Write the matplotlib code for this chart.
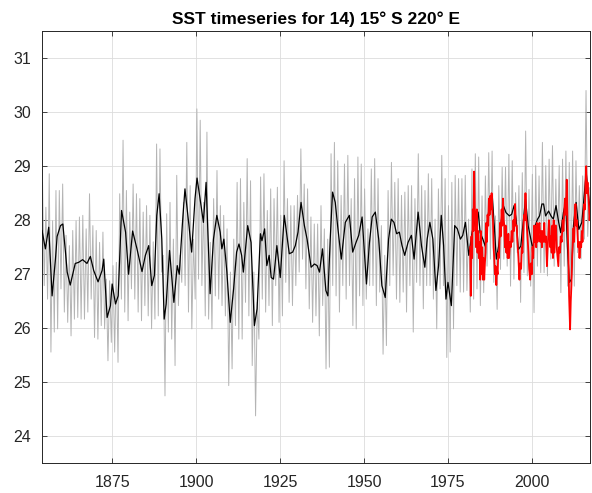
import numpy as np
import matplotlib
matplotlib.use("Agg")
import matplotlib.pyplot as plt

plt.rcParams['font.family'] = ['Liberation Sans', 'DejaVu Sans']

# monthly record, summarised as the seasonal high / low of each year (1854..2017)
first_year = 1854
grey_hi = [28.70, 28.24, 28.86, 27.99, 28.55, 28.55, 28.67, 27.72, 27.53, 27.81,
           27.99, 28.06, 28.09, 27.84, 28.49, 27.90, 27.81, 27.59, 27.78, 26.91,
           26.88, 27.16, 27.22, 28.49, 29.48, 28.55, 28.15, 28.67, 28.49, 28.40,
           28.15, 28.27, 28.09,
           27.60,
           29.41, 29.32, 27.35, 28.12, 28.33, 27.65, 28.83, 27.35, 28.33, 29.44,
           28.64, 27.65, 30.06, 29.85, 28.33, 29.63, 27.59, 28.40, 28.92, 28.27,
           28.09, 27.84, 27.04, 27.65, 28.70, 28.77, 28.33, 29.14, 28.73, 27.04,
           26.48, 28.80,
           28.86, 28.18, 28.58, 28.40, 28.61, 28.09, 29.10, 28.40, 28.27, 28.27,
           28.46, 29.32, 28.67, 28.58, 28.06, 27.93, 27.93, 28.27, 27.84, 27.65,
           29.23, 29.44, 29.10, 28.46, 29.04, 29.20, 28.40, 28.77, 29.17, 29.04,
           28.58, 27.84, 28.95,
           29.14, 28.77, 27.90, 27.35, 28.55, 29.07, 28.70, 28.77, 28.46, 28.52,
           28.64, 28.64, 28.40, 29.23, 28.64, 28.55, 28.86, 28.77, 28.02, 28.58,
           29.20, 28.77, 28.27, 28.70, 28.83, 28.77, 28.77, 28.83, 28.02, 28.95,
           29.23, 29.17,
           28.45, 28.82, 29.25, 29.28, 28.08, 28.64, 28.98, 28.98, 29.22, 29.10,
           28.51, 28.64, 28.88, 29.65, 28.57, 28.85, 29.01, 28.82, 29.44, 29.01,
           29.13, 29.38, 28.76, 29.01, 29.13, 29.28, 29.07, 29.28, 29.10, 28.64,
           28.82, 30.40,
           28.60]
grey_lo = [26.79, 26.54, 25.56, 25.93, 25.99, 26.73, 26.30, 26.11, 25.86, 26.17,
           26.20, 26.17, 26.17, 26.30, 26.54, 25.83, 25.80, 26.05, 25.99, 25.40,
           25.74, 25.56, 25.37, 26.54, 26.30, 26.14, 26.73, 26.54, 26.30, 26.14,
           26.42, 26.23, 25.99,
           26.17, 26.23, 27.04, 24.75, 25.93, 25.80, 25.31, 26.42, 26.85, 26.79,
           26.30, 25.99, 26.54, 26.91, 26.79, 26.23, 26.17, 25.99, 26.60, 26.54,
           26.42, 26.23, 24.94, 25.25, 26.05, 25.80, 25.80, 26.48, 26.23, 25.31,
           24.38, 25.80, 26.54,
           26.30, 26.42, 26.05, 26.79, 26.11, 26.23, 26.85, 26.48, 26.42, 26.79,
           27.04, 27.28, 26.73, 26.36, 26.11, 26.23, 25.86, 26.42, 25.25, 25.28,
           26.79, 26.60, 26.30, 26.79, 26.54, 26.79, 26.05, 25.99, 26.60, 26.42,
           26.54, 26.79,
           26.79,
           26.42, 26.67, 25.52, 25.68, 26.79, 26.98, 26.54, 26.48, 26.67, 26.30,
           26.79, 25.93, 26.85, 26.79, 26.36, 26.79, 26.79, 26.54, 25.99, 26.73,
           26.79, 25.46, 25.56, 25.99, 26.79, 26.67, 26.67, 26.70, 26.30, 26.54,
           26.73, 26.42,
           26.66, 27.15, 27.28, 26.85, 26.35, 27.09, 27.28, 27.15, 26.78, 26.91,
           27.40, 26.48, 27.03, 26.97, 26.78, 26.29, 27.15, 27.03, 27.03, 26.97,
           27.28, 27.15, 27.40, 26.66, 27.15, 26.78, 26.66, 26.78, 27.40, 27.28,
           27.65,
           27.70]

# smoothed series
black_year = [1854.0, 1855.0, 1856.0, 1857.0, 1858.0, 1858.5, 1859.5, 1860.2, 1861.0, 1861.5,
              1862.4, 1863.9, 1864.9, 1866.1, 1867.4, 1868.4, 1869.4, 1870.7, 1871.9, 1872.4,
              1873.4, 1874.4, 1874.9, 1875.9, 1876.7, 1877.7, 1878.9, 1879.8, 1881.0, 1882.3,
              1883.8, 1884.8, 1885.8,
              1886.7, 1887.5, 1888.2, 1888.9, 1889.7, 1890.4, 1891.0, 1892.0, 1892.7, 1893.3,
              1894.3, 1894.9, 1895.8, 1896.6, 1897.8, 1898.6, 1899.6, 1900.2, 1901.1, 1902.1,
              1902.9, 1904.1, 1905.1, 1906.1, 1907.1, 1907.6, 1908.2, 1909.1, 1910.1, 1911.1,
              1912.0, 1912.7, 1913.5, 1914.0, 1915.3, 1916.3, 1917.3, 1918.1, 1919.1,
              1919.55, 1920.35, 1921.0, 1921.7, 1922.3, 1923.0, 1924.0, 1925.0, 1926.2, 1927.7,
              1928.7, 1929.5, 1930.3, 1931.2, 1932.2, 1933.0, 1934.2, 1935.2, 1936.0, 1936.7,
              1937.6, 1938.6, 1939.2, 1939.9, 1940.6, 1941.4, 1942.1, 1943.2, 1944.4, 1945.6,
              1946.6, 1947.6, 1948.4, 1949.4, 1950.7, 1951.6,
              1952.4, 1953.35, 1954.35, 1955.3, 1956.3, 1957.3, 1958.1, 1958.9, 1959.7, 1960.5,
              1961.3, 1962.1, 1963.1, 1964.1, 1964.9, 1966.1, 1967.1, 1968.1, 1968.8, 1969.6,
              1970.5, 1971.4, 1972.2, 1973.0, 1973.7, 1974.4, 1975.0, 1976.0, 1977.0, 1977.8,
              1978.7, 1979.4, 1980.2, 1981.2, 1982.2, 1983.2, 1984.0,
              1984.6, 1985.4, 1986.1, 1986.8, 1987.6, 1988.2, 1988.8, 1989.4, 1990.1, 1990.7,
              1991.5, 1992.3, 1993.3, 1994.0, 1994.7, 1995.3, 1996.0, 1996.7, 1997.3, 1998.1,
              1998.9, 1999.7, 2000.3, 2001.0, 2001.7, 2002.3, 2003.0, 2003.5, 2004.1, 2005.0,
              2005.7, 2006.4, 2007.2, 2008.0, 2008.6, 2009.4, 2010.1, 2010.6, 2011.2, 2011.8,
              2012.4, 2013.2, 2014.0, 2014.9, 2015.6, 2016.2, 2017.0, 2017.4]
black_sst = [27.81, 27.47, 27.87, 26.60, 27.28, 27.70, 27.90, 27.93, 27.40, 27.04,
             26.80, 27.20, 27.22, 27.27, 27.20, 27.33, 27.07, 26.86, 27.07, 27.28,
             26.20, 26.42, 26.82, 26.45, 26.60, 28.18, 27.78, 27.00, 27.80, 27.47,
             27.05, 27.35, 27.53,
             26.79, 26.98, 28.09, 28.49, 27.65, 26.17, 26.45, 27.44, 26.91, 26.48,
             27.16, 27.00, 27.90, 28.58, 27.90, 27.41, 28.40, 28.78, 28.40, 27.96,
             28.70, 26.64, 27.65, 28.09, 27.78, 27.47, 27.65, 27.04, 26.11, 26.73,
             27.41, 27.56, 27.35, 27.04, 27.90, 27.59, 26.05, 26.36, 27.75,
             27.62, 27.84, 27.16, 27.35, 26.94, 26.91, 27.53, 26.94, 28.09, 27.38,
             27.41, 27.53, 27.78, 28.33, 27.90, 27.65, 27.13, 27.19, 27.16, 27.04,
             27.47, 26.70, 26.60, 27.65, 28.52, 28.33, 27.90, 27.28, 27.96, 28.09,
             27.41, 27.59, 27.72, 28.06, 26.82, 27.59,
             28.06, 28.15, 27.65, 26.79, 26.57, 27.65, 28.02, 27.96, 27.75, 27.78,
             27.53, 27.35, 27.59, 27.72, 27.28, 28.15, 27.53, 27.13, 27.65, 27.96,
             27.65, 26.70, 27.16, 28.09, 27.53, 26.54, 26.85, 26.42, 27.90, 27.84,
             27.65, 27.72, 27.96, 27.35, 27.78, 28.02, 28.15,
             27.77, 27.65, 27.52, 28.02, 28.36, 28.45, 27.90, 27.28, 27.52, 27.90,
             28.27, 28.14, 28.08, 28.11, 28.27, 28.02, 27.46, 27.52, 27.90, 28.39,
             27.90, 27.65, 27.46, 27.90, 28.02, 28.08, 28.30, 28.30, 28.08, 28.17,
             28.08, 28.02, 28.27, 27.96, 27.77, 28.14, 28.33, 27.52, 26.85, 26.91,
             27.90, 28.33, 27.83, 27.96, 28.45, 28.88, 28.39, 28.20]

# satellite era series (red)
red_year = [1981.6, 1981.8, 1982.0, 1982.2, 1982.4, 1982.6, 1982.8, 1983.0, 1983.2, 1983.4,
            1983.6, 1983.8, 1984.0, 1984.2, 1984.4, 1984.6, 1984.8, 1985.0, 1985.2, 1985.4,
            1985.6, 1985.8, 1986.0, 1986.2, 1986.4, 1986.6, 1986.8, 1987.0, 1987.2, 1987.4,
            1987.6, 1987.8, 1988.0, 1988.2, 1988.4, 1988.6, 1988.8, 1989.0, 1989.2, 1989.4,
            1989.6, 1989.8, 1990.0, 1990.2, 1990.5, 1990.7, 1991.0, 1991.2, 1991.4, 1991.6,
            1991.8, 1992.0, 1992.2, 1992.4, 1992.6, 1992.8, 1993.0, 1993.2, 1993.5, 1993.7,
            1994.0, 1994.2, 1994.5, 1994.7, 1995.0, 1995.2, 1995.5, 1995.7, 1996.0, 1996.3,
            1996.5, 1996.8, 1997.0, 1997.2, 1997.5, 1997.7, 1997.9, 1998.1, 1998.3, 1998.5,
            1998.7, 1999.0, 1999.2, 1999.5, 1999.7, 2000.0, 2000.2, 2000.4, 2000.7, 2000.9,
            2001.1, 2001.3, 2001.5, 2001.7, 2002.0, 2002.3, 2002.5, 2002.8, 2003.0, 2003.2,
            2003.5, 2003.7, 2003.9, 2004.2, 2004.5, 2004.7, 2004.9, 2005.1, 2005.3, 2005.5,
            2005.7, 2005.9, 2006.1, 2006.3, 2006.5, 2006.7, 2006.9, 2007.2, 2007.4, 2007.7,
            2007.9, 2008.1, 2008.4, 2008.6, 2008.9, 2009.2, 2009.4, 2009.7, 2009.9, 2010.1,
            2010.4, 2010.6, 2010.9, 2011.1, 2011.4, 2011.6, 2011.8, 2012.0, 2012.2, 2012.4,
            2012.6, 2012.8, 2013.0, 2013.2, 2013.4, 2013.6, 2013.8, 2014.0, 2014.2, 2014.5,
            2014.7, 2014.9, 2015.1, 2015.4, 2015.6, 2015.8, 2016.0, 2016.2, 2016.4, 2016.6,
            2016.8, 2017.0, 2017.2, 2017.4]
red_sst = [27.5, 26.6, 27.7, 27.3, 28.2, 27.8, 28.9, 28.2, 28.0, 27.5,
           28.2, 27.4, 27.8, 27.3, 27.6, 26.9, 27.8, 27.0, 27.5, 26.9,
           27.3, 26.9, 27.2, 27.4, 27.95, 27.6, 28.1, 27.9, 28.4, 28.1,
           28.45, 28.2, 28.5, 28.2, 28.0, 27.5, 27.3, 27.0, 27.15, 26.8,
           27.1, 27.0, 27.4, 27.3, 27.95, 27.7, 28.2, 27.9, 28.4, 28.0,
           27.9, 27.5, 27.9, 27.4, 27.7, 27.3, 27.75, 27.3, 27.6, 27.5,
           27.8, 27.6, 28.0, 27.8, 28.3, 27.9, 27.9, 27.6, 27.3, 26.9,
           27.2, 27.1, 27.5, 27.4, 27.9, 28.1, 28.0, 28.5, 28.1, 27.9,
           27.7, 27.4, 27.1, 26.9, 27.2, 27.0, 27.5, 27.3, 27.9, 27.6,
           27.9, 27.5, 27.95, 27.6, 27.9, 27.95, 27.6, 27.8, 27.5, 27.8,
           27.6, 27.95, 27.6, 27.7, 27.15, 27.5, 27.7, 28.0, 27.8, 27.5,
           27.7, 27.4, 27.9, 27.3, 28.0, 27.4, 27.9, 27.9, 27.5, 27.3,
           27.15, 27.5, 27.4, 27.7, 27.6, 28.0, 27.8, 28.2, 28.4, 28.1,
           28.75, 28.0, 27.4, 26.6, 25.98, 26.5, 26.8, 27.3, 27.6, 27.85,
           27.6, 28.1, 28.3, 27.9, 28.0, 27.8, 27.5, 27.6, 27.3, 27.6,
           27.5, 27.8, 27.6, 28.1, 28.3, 28.2, 28.7, 29.0, 28.5, 28.7,
           28.5, 28.3, 28.0, 28.15]

title_text = "SST timeseries for 14) 15\u00b0 S 220\u00b0 E"
x_ticks = [1875, 1900, 1925, 1950, 1975, 2000]
y_ticks = [24, 25, 26, 27, 28, 29, 30, 31]


def zigzag(hi, lo, start):
    xs, ys = [], []
    for i in range(len(hi)):
        xs.append(start + i + 0.15)
        ys.append(hi[i])
        if i < len(lo):
            xs.append(start + i + 0.65)
            ys.append(lo[i])
    return xs, ys


fig = plt.figure(figsize=(5.92, 4.93), dpi=100)
ax = fig.add_axes([0.071, 0.060, 0.926, 0.877])

gx, gy = zigzag(grey_hi, grey_lo, first_year)
ax.plot(gx, gy, color='#b4b4b4', lw=0.7, zorder=2)
ax.plot(black_year, black_sst, color='black', lw=0.9, zorder=3)
ax.plot(red_year, red_sst, color='#ff0000', lw=1.3, zorder=4)

ax.set_xlim(1854, 2017.4)
ax.set_ylim(23.5, 31.5)
ax.set_xticks(x_ticks)
ax.set_yticks(y_ticks)
ax.grid(True, color='#dcdcdc', lw=0.6)
ax.set_axisbelow(True)
ax.tick_params(direction='in', length=3.5, width=0.6, colors='#262626',
               labelsize=11.5, top=True, right=True, pad=8)
for s in ax.spines.values():
    s.set_color('#262626')
    s.set_linewidth(0.7)
ax.set_title(title_text, fontsize=12.5, fontweight='bold', pad=5)

plt.savefig('out.png', dpi=100)
